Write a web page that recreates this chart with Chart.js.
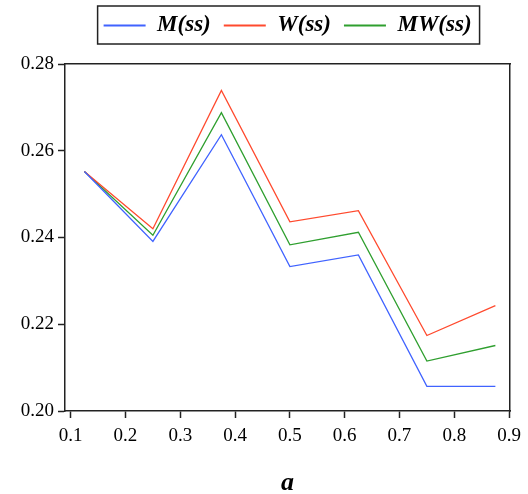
<!DOCTYPE html>
<html>
<head>
<meta charset="utf-8">
<script src="https://cdn.jsdelivr.net/npm/chart.js@4"></script>
<style>
  html, body { margin: 0; padding: 0; background: #fff; }
  #wrap { width: 528px; height: 494px; }
</style>
</head>
<body>
<div id="wrap"><canvas id="chart"></canvas></div>
<script>
// values
const aValues = [0.125, 0.25, 0.375, 0.5, 0.625, 0.75, 0.875];
const mSS  = [0.2552, 0.2391, 0.2637, 0.2333, 0.2360, 0.2057, 0.2057];
const wSS  = [0.2552, 0.2420, 0.2739, 0.2436, 0.2462, 0.2174, 0.2243];
const mwSS = [0.2552, 0.2405, 0.2688, 0.2383, 0.2412, 0.2115, 0.2151];
const xTicks = [0.1, 0.2, 0.3, 0.4, 0.5, 0.6, 0.7, 0.8, 0.9];
const yTicks = [0.20, 0.22, 0.24, 0.26, 0.28];

const serif = "'Liberation Serif', 'DejaVu Serif', serif";
const frame = '#222';

function pts(vals) {
    return aValues.map((x, i) => ({ x: x, y: vals[i] }));
}

function series(label, vals, color) {
    return {
        label: label,
        data: pts(vals),
        borderColor: color,
        backgroundColor: color,
        borderWidth: 1.3,
        pointRadius: 0,
        tension: 0
    };
}

// рамка вокруг легенды
const legendBox = {
    id: 'legendBox',
    afterDraw(chart) {
        const hb = chart.legend.legendHitBoxes;
        if (!hb || !hb.length) return;
        const left = Math.min(...hb.map(b => b.left)) - 6;
        const right = Math.max(...hb.map(b => b.left + b.width)) + 8;
        const top = hb[0].top - 8;
        const bottom = hb[0].top + hb[0].height + 7;
        const ctx = chart.ctx;
        ctx.save();
        ctx.strokeStyle = frame;
        ctx.lineWidth = 1.5;
        ctx.strokeRect(left, top, right - left, bottom - top);
        ctx.restore();
    }
};

new Chart(document.getElementById('chart'), {
    type: 'line',
    data: {
        datasets: [
            series('M(ss)', mSS, '#4063ff'),
            series('W(ss)', wSS, '#ff4a2e'),
            series('MW(ss)', mwSS, '#2f9f2f')
        ]
    },
    options: {
        responsive: true,
        maintainAspectRatio: false,
        animation: false,
        layout: { padding: { top: 1, right: 16, left: 0, bottom: 0 } },
        plugins: {
            tooltip: { enabled: false },
            legend: {
                position: 'top',
                fullSize: false,
                labels: {
                    usePointStyle: true,
                    pointStyle: 'line',
                    pointStyleWidth: 42,
                    padding: 13,
                    color: '#000',
                    font: { family: serif, size: 23, style: 'italic', weight: 'bold' },
                    generateLabels: chart => Chart.defaults.plugins.legend.labels.generateLabels(chart)
                        .map(l => Object.assign(l, { lineWidth: 2 }))
                }
            }
        },
        scales: {
            x: {
                type: 'linear',
                min: 0.0896,
                max: 0.902,
                afterBuildTicks: s => { s.ticks = xTicks.map(v => ({ value: v })); },
                afterFit: s => { s.height = 83; },
                grid: { drawOnChartArea: false, drawTicks: true, tickLength: 7, tickColor: frame, tickWidth: 1.5 },
                border: { display: true, color: frame, width: 1.5 },
                ticks: {
                    color: '#000',
                    padding: 7,
                    maxRotation: 0,
                    font: { family: serif, size: 19 },
                    callback: v => v.toFixed(1)
                },
                title: {
                    display: true,
                    text: 'a',
                    color: '#000',
                    padding: 0,
                    font: { family: serif, size: 26, style: 'italic', weight: 'bold', lineHeight: 0.8 }
                }
            },
            x2: {
                type: 'linear',
                position: 'top',
                min: 0.0896,
                max: 0.902,
                afterFit: s => { s.height = 17; },
                grid: { display: false },
                border: { display: true, color: frame, width: 1.5 },
                ticks: { display: false }
            },
            y: {
                min: 0.20,
                max: 0.28,
                afterBuildTicks: s => { s.ticks = yTicks.map(v => ({ value: v })); },
                afterFit: s => { s.width = 65; },
                grid: { drawOnChartArea: false, drawTicks: true, tickLength: 7, tickColor: frame, tickWidth: 1.5 },
                border: { display: true, color: frame, width: 1.5 },
                ticks: {
                    color: '#000',
                    padding: 4,
                    font: { family: serif, size: 19 },
                    callback: v => v.toFixed(2)
                }
            },
            y2: {
                position: 'right',
                min: 0.20,
                max: 0.28,
                afterFit: s => { s.width = 0; },
                grid: { display: false },
                border: { display: true, color: frame, width: 1.5 },
                ticks: { display: false }
            }
        }
    },
    plugins: [legendBox]
});
</script>
</body>
</html>
